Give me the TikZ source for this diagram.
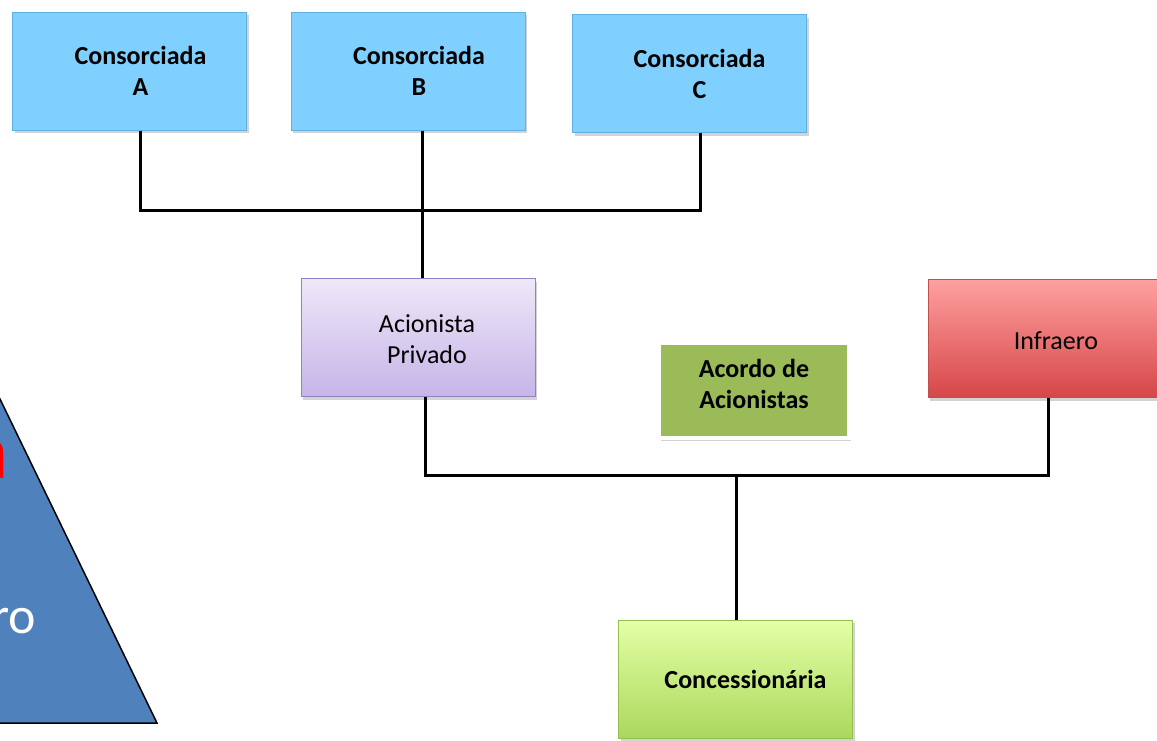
\documentclass[tikz,border=0pt]{standalone}
\usepackage{fontspec}
\setmainfont{Carlito}
\usetikzlibrary{shadows}
\definecolor{consblue}{RGB}{128,208,255}
\definecolor{consedge}{RGB}{96,176,226}
\definecolor{aciontop}{RGB}{238,232,248}
\definecolor{acionbot}{RGB}{198,180,232}
\definecolor{acionedge}{RGB}{150,128,196}
\definecolor{acordo}{RGB}{155,187,89}
\definecolor{infratop}{RGB}{255,160,160}
\definecolor{infrabot}{RGB}{214,70,72}
\definecolor{infraedge}{RGB}{192,80,77}
\definecolor{conctop}{RGB}{228,255,166}
\definecolor{concbot}{RGB}{170,216,92}
\definecolor{concedge}{RGB}{150,190,80}
\definecolor{triblue}{RGB}{79,129,189}
\begin{document}
\begin{tikzpicture}[x=1pt,y=-1pt]
\tikzstyle{every node}+=[inner sep=0pt]
\tikzstyle{wire}=[black,line width=3pt]
\tikzstyle{box}=[rectangle,line width=1pt,minimum width=234pt,minimum height=118pt,drop shadow={shadow xshift=2pt,shadow yshift=-3pt,opacity=.35}]
\tikzstyle{txt}=[font=\fontsize{26}{31}\selectfont,align=center]
\tikzstyle{btxt}=[font=\fontsize{26}{31}\selectfont\bfseries,align=center]
\useasboundingbox (0,0) rectangle (1157,740);
\begin{scope}
\clip (0,0) rectangle (1157,740);
\filldraw[fill=triblue,draw=black,line width=1.5pt] (157,723) -- (-48,300) -- (-260,723) -- cycle;
\node[red,anchor=base east,font=\fontsize{82}{90}\selectfont] (mark) at (9,478) {a};
\node[white,anchor=base east,font=\fontsize{52}{60}\selectfont] (tail) at (36,633) {ro};
\node[box,fill=consblue,draw=consedge,label={[btxt,xshift=11pt]center:{Consorciada\\A}}] (consA) at (129.5,71) {};
\node[box,fill=consblue,draw=consedge,label={[btxt,xshift=11pt]center:{Consorciada\\B}}] (consB) at (408,71) {};
\node[box,fill=consblue,draw=consedge,label={[btxt,xshift=10pt]center:{Consorciada\\C}}] (consC) at (689.5,73.5) {};
\node[box,top color=aciontop,bottom color=acionbot,draw=acionedge,label={[txt,xshift=9pt,yshift=-2pt]center:{Acionista\\Privado}}] (acion) at (418,337.5) {};
\node[rectangle,fill=acordo,draw=white,line width=4pt,minimum width=190pt,minimum height=95pt,drop shadow={shadow xshift=2pt,shadow yshift=-3pt,opacity=.35},label={[btxt,yshift=7pt]center:{Acordo de\\Acionistas}}] (acordo) at (754,390.5) {};
\node[box,top color=infratop,bottom color=infrabot,draw=infraedge,label={[txt,xshift=11pt,yshift=-2pt]center:{Infraero}}] (infra) at (1045,338.5) {};
\node[box,top color=conctop,bottom color=concbot,draw=concedge,label={[btxt,xshift=10pt]center:{Concession\'aria}}] (conc) at (735.5,679) {};
\end{scope}
\coordinate (jn) at (736,475);
\draw[wire] ([xshift=11pt]consA.south) -- ++(0,80) -| ([xshift=11pt]consC.south);
\draw[wire] ([xshift=14pt]consB.south) -- ([xshift=14pt]consB.south |- acion.north);
\draw[wire] ([xshift=7pt]acion.south) |- (jn) -| ([xshift=3pt]infra.south);
\draw[wire] (jn) -- (jn |- conc.north);
\end{tikzpicture}
\end{document}
